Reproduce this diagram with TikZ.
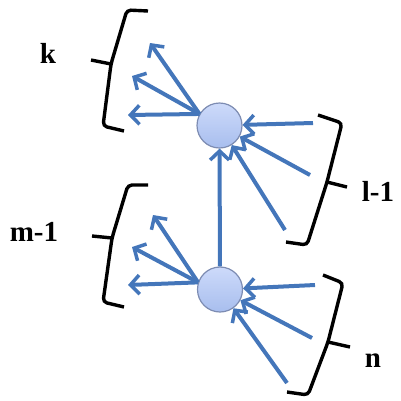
\documentclass[tikz,border=0pt]{standalone}
\usepackage{fontspec}
\setmainfont{Liberation Serif}
\usetikzlibrary{arrows.meta}
\definecolor{arrowblue}{RGB}{68,118,186}
\definecolor{circtop}{RGB}{205,218,250}
\definecolor{circbot}{RGB}{168,190,238}
\definecolor{circline}{RGB}{125,140,178}

\begin{document}
\begin{tikzpicture}[
    x=1pt, y=-1pt,
    unit/.style={circle, draw=circline, line width=1.2pt, top color=circtop, bottom color=circbot, minimum size=45pt, inner sep=0pt},
    link/.style={-{Straight Barb[length=9pt, width=19pt, line width=3.5pt]}, line width=4pt, color=arrowblue},
    brace/.style={draw, line width=3.4pt, rounded corners=4pt},
    count/.style={font=\fontsize{29}{33}\selectfont\bfseries},
]
\useasboundingbox (0,0) rectangle (401,400);

% Two units
\node[unit] (top) at (219.5,125.5) {};
\node[unit] (bot) at (220,289.5) {};

% Fan-out ends (left) and fan-in starts (right)
\coordinate (k1) at (150,43);
\coordinate (k2) at (132,76);
\coordinate (k3) at (128,115);
\coordinate (m1) at (153,215);
\coordinate (m2) at (132,247);
\coordinate (m3) at (128,285);
\coordinate (l1) at (313,123);
\coordinate (l2) at (310,175);
\coordinate (l3) at (285,230);
\coordinate (n1) at (315,285);
\coordinate (n2) at (312,338);
\coordinate (n3) at (287,383);

% Connections
\foreach \i in {1,2,3} {
  \draw[link] (top.150) -- (k\i);
  \draw[link] (bot.162) -- (m\i);
  \draw[link] (l\i) -- (top);
  \draw[link] (n\i) -- (bot);
}
\draw[link] (bot) -- (top);

% Braces
\draw[brace] (148,11) -- (127,10) -- (111,64) -- (103,126) -- (124,131);
\draw[brace] (111,64) -- ++(-20,-4);
\draw[brace] (148,185) -- (128,185) -- (112,238) -- (103,302) -- (124,307);
\draw[brace] (112,238) -- ++(-20,-2);
\draw[brace] (318,115) -- (342,123) -- (327,182) -- (307,245) -- (286,242);
\draw[brace] (327,182) -- ++(20,5);
\draw[brace] (323,275) -- (343,283) -- (328,342) -- (308,395) -- (287,392);
\draw[brace] (328,342) -- ++(22,5);

% Labels
\node[count] (lk) at (48,53) {k};
\node[count] (lm) at (34,232) {m-1};
\node[count] (ll) at (378,191) {l-1};
\node[count] (ln) at (373,361) {n};
\end{tikzpicture}
\end{document}
